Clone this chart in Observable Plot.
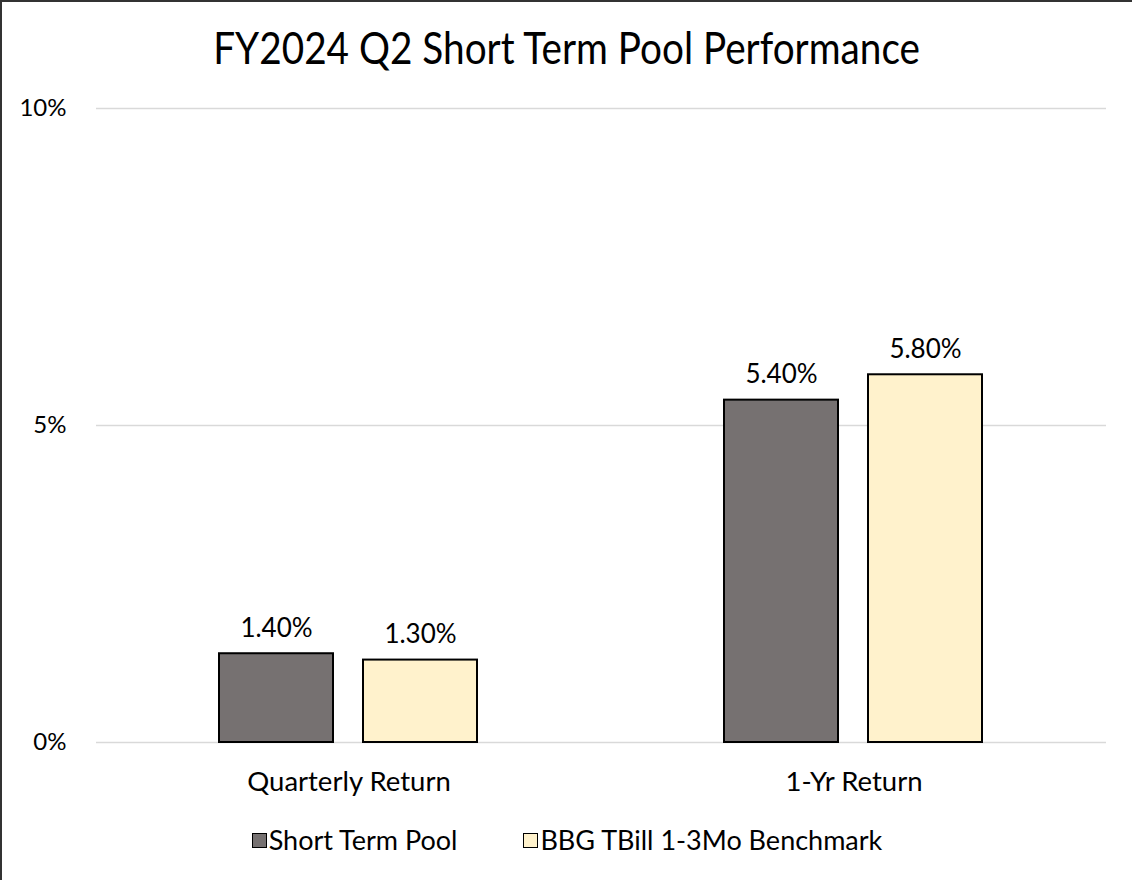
<!DOCTYPE html>
<html>
<head>
<meta charset="utf-8">
<script src="https://cdn.jsdelivr.net/npm/d3@7"></script>
<script src="https://cdn.jsdelivr.net/npm/@observablehq/plot@0.6"></script>
<style>
  html, body { margin: 0; padding: 0; background: #fff; }
  #wrap {
    position: relative; width: 1132px; height: 880px; box-sizing: border-box;
    border-top: 2px solid #333; border-left: 2px solid #333; background: #fff;
    font-family: Lato, "DejaVu Sans Condensed", sans-serif;
    color: #000; overflow: hidden;
  }
  #title {
    position: absolute; left: 0; right: 0; top: 20px; text-align: center;
    font-size: 44px; line-height: 50px; color: #000;
  }
  #title span { display: inline-block; transform: scaleX(0.88); transform-origin: center; }
  #chart { position: absolute; left: 0; top: 78px; }
  #legend {
    position: absolute; left: 0; right: 0; top: 822px; display: flex; justify-content: center;
    gap: 66px; font-size: 27px; line-height: 32px; color: #000;
  }
  .item { display: flex; align-items: center; }
  .sw { width: 13px; height: 13px; border: 1.5px solid #000; margin-right: 2px; }
</style>
</head>
<body>
<div id="wrap">
  <div id="title"><span>FY2024 Q2 Short Term Pool Performance</span></div>
  <div id="chart"></div>
  <div id="legend"></div>
</div>
<script>
const categories = ["Quarterly Return", "1-Yr Return"];
const seriesNames = ["Short Term Pool", "BBG TBill 1-3Mo Benchmark"];
const poolValues = [1.40, 5.40];
const benchmarkValues = [1.30, 5.80];
const yTicks = [0, 5, 10];
const seriesColors = ["#767171", "#FFF2CC"];

const data = categories.flatMap((c, i) => [
  {category: c, series: seriesNames[0], value: poolValues[i]},
  {category: c, series: seriesNames[1], value: benchmarkValues[i]}
]);

const font = 'Lato, "DejaVu Sans Condensed", sans-serif';

const chart = Plot.plot({
  width: 1130,
  height: 740,
  marginLeft: 94,
  marginRight: 26,
  marginTop: 28,
  marginBottom: 78,
  style: {fontFamily: font, fontSize: "24px", color: "#000", background: "transparent", overflow: "visible"},
  fx: {domain: categories, padding: 0, label: null},
  x: {domain: seriesNames, paddingInner: 0.207, paddingOuter: 0.845, axis: null},
  y: {domain: [0, 10], ticks: yTicks, tickFormat: d => d + "%", label: null, tickSize: 0, tickPadding: 30},
  color: {domain: seriesNames, range: seriesColors},
  marks: [
    Plot.gridY(yTicks, {stroke: "#D9D9D9", strokeOpacity: 1, strokeWidth: 1.5}),
    Plot.axisFx({anchor: "bottom", tickSize: 0, tickPadding: 29, fontSize: 27.5, label: null}),
    Plot.barY(data, {fx: "category", x: "series", y: "value", fill: "series", stroke: "#000", strokeWidth: 2}),
    Plot.text(data, {
      fx: "category", x: "series", y: "value",
      text: d => d.value.toFixed(2) + "%",
      lineAnchor: "bottom", dy: -17, fontSize: 26, fill: "#000"
    })
  ]
});
document.getElementById("chart").appendChild(chart);

const legend = document.getElementById("legend");
seriesNames.forEach((name, i) => {
  const item = document.createElement("div");
  item.className = "item";
  const sw = document.createElement("span");
  sw.className = "sw";
  sw.style.background = seriesColors[i];
  const label = document.createElement("span");
  label.textContent = name;
  item.appendChild(sw);
  item.appendChild(label);
  legend.appendChild(item);
});
</script>
</body>
</html>
